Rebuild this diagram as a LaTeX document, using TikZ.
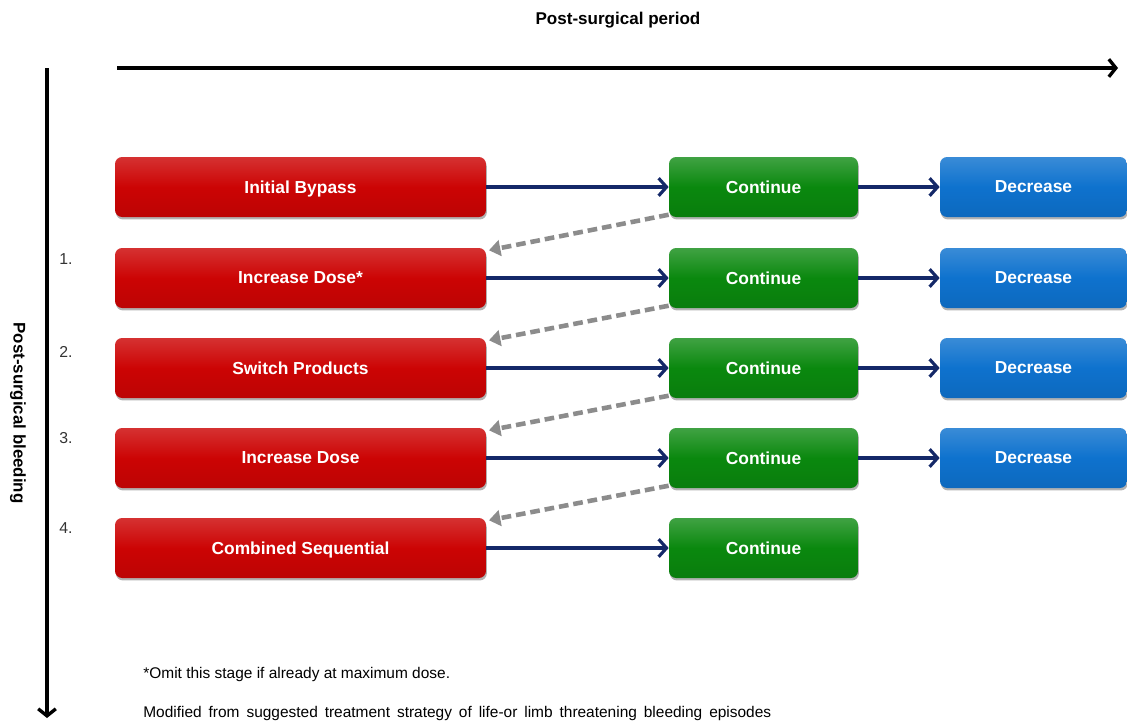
\documentclass[tikz,border=0pt]{standalone}
\usepackage{fontspec}
\setmainfont{Liberation Sans}
\usetikzlibrary{arrows.meta,shadows,calc}
\definecolor{redbox}{RGB}{204,4,4}
\definecolor{greenbox}{RGB}{10,136,14}
\definecolor{bluebox}{RGB}{14,114,206}
\definecolor{navy}{RGB}{20,40,104}
\definecolor{dashgray}{RGB}{140,140,140}
\tikzset{
  boxbase/.style={rounded corners=4pt, minimum height=1.2cm, text=white,
    font=\fontsize{9.9}{12}\selectfont\bfseries, inner sep=0pt, text depth=0pt,
    drop shadow={shadow xshift=0.5pt, shadow yshift=-1.4pt, opacity=0.3, fill=black}},
  redb/.style={boxbase, minimum width=7.42cm, top color=redbox!82!white, bottom color=redbox!92!black, middle color=redbox},
  greenb/.style={boxbase, minimum width=3.78cm, top color=greenbox!78!white, bottom color=greenbox!92!black, middle color=greenbox},
  blueb/.style={boxbase, minimum width=3.74cm, top color=bluebox!82!white, bottom color=bluebox!92!black, middle color=bluebox},
  flow/.style={draw=navy, line width=1.8pt, -{Straight Barb[length=4.5pt,width=10pt,line width=1.8pt]}},
  back/.style={draw=dashgray, line width=2.6pt, dash pattern=on 5.5pt off 2.8pt, -{Triangle[length=6.5pt,width=9pt]}},
  axis/.style={draw=black, line width=1.9pt, -{Straight Barb[length=4pt,width=10pt,line width=1.9pt]}},
  num/.style={font=\fontsize{9}{11}\selectfont, text=black!80, inner sep=0pt},
  note/.style={font=\fontsize{8.8}{11}\selectfont, anchor=west, inner sep=0pt}
}
\begin{document}
\begin{tikzpicture}[x=0.02cm,y=-0.02cm]
\useasboundingbox (0,0) rectangle (1127,721);
\node[font=\fontsize{9.7}{12}\selectfont\bfseries] (title) at (618,20) {Post-surgical period};
\coordinate (hs) at (117,68);
\coordinate (he) at (1118,68);
\draw[axis] (hs) -- (he);
\coordinate (vs) at (47,68);
\coordinate (ve) at (47,718);
\draw[axis] (vs) -- (ve);
\node[rotate=-90, font=\fontsize{9.6}{12}\selectfont\bfseries] (vlab) at (18,413) {Post-surgical bleeding};

\node[redb] (r1) at (300.5,187) {Initial Bypass};
\node[redb] (r2) at (300.5,278) {Increase Dose*};
\node[redb] (r3) at (300.5,368) {Switch Products};
\node[redb] (r4) at (300.5,458) {Increase Dose};
\node[redb] (r5) at (300.5,548) {Combined Sequential};

\node[greenb] (g1) at (763.5,187) {Continue};
\node[greenb] (g2) at (763.5,278) {Continue};
\node[greenb] (g3) at (763.5,368) {Continue};
\node[greenb] (g4) at (763.5,458) {Continue};
\node[greenb] (g5) at (763.5,548) {Continue};

\node[blueb] (b1) at (1033.5,187) {Decrease};
\node[blueb] (b2) at (1033.5,278) {Decrease};
\node[blueb] (b3) at (1033.5,368) {Decrease};
\node[blueb] (b4) at (1033.5,458) {Decrease};

\node[num] (n1) at (66,259) {1.};
\node[num] (n2) at (66,352) {2.};
\node[num] (n3) at (66,438) {3.};
\node[num] (n4) at (66,528) {4.};

\foreach \i in {1,...,5} {\draw[flow] (r\i.east) -- (g\i.west);}
\foreach \i in {1,...,4} {\draw[flow] (g\i.east) -- (b\i.west);}
\foreach \i/\j in {1/2,2/3,3/4,4/5} {
  \draw[back] ($(g\i.south west)+(0pt,1.5pt)$) -- ($(r\j.north east)+(1.5pt,-1.5pt)$);
}

\node[note] (fn1) at (143,674) {*Omit this stage if already at maximum dose.};
\node[note] (fn2) at (143,713) {\makebox[12.56cm][s]{Modified from suggested treatment strategy of life-or limb threatening bleeding episodes}};
\end{tikzpicture}
\end{document}
